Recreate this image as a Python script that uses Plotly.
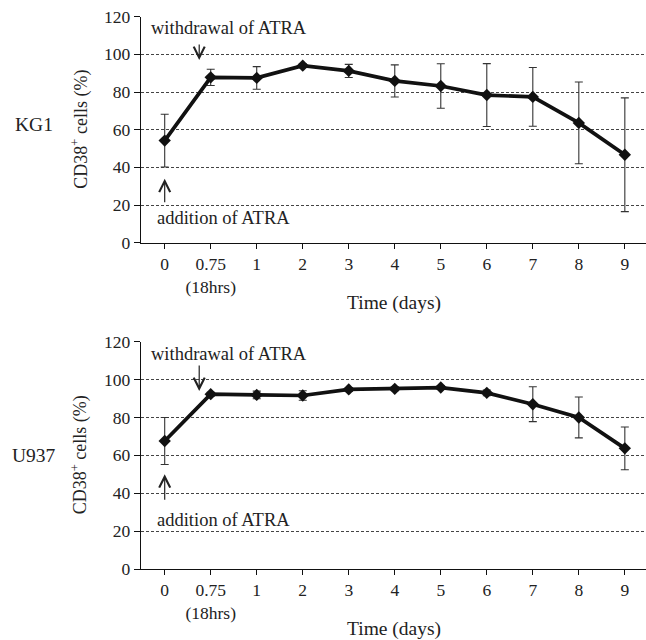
import plotly.graph_objects as go

categories = ["0", "0.75", "1", "2", "3", "4", "5", "6", "7", "8", "9"]
tick_labels = ["0", "0.75<br>(18hrs)", "1", "2", "3", "4", "5", "6", "7", "8", "9"]
y_ticks = [0, 20, 40, 60, 80, 100, 120]

kg1_mean = [54.2, 87.8, 87.5, 94.0, 91.2, 85.9, 83.2, 78.4, 77.4, 63.6, 46.7]
kg1_err = [14.0, 4.3, 6.0, 1.0, 3.5, 8.5, 11.8, 16.7, 15.6, 21.7, 30.2]

u937_mean = [67.6, 92.3, 91.9, 91.6, 94.8, 95.1, 95.8, 93.0, 87.0, 80.0, 63.7]
u937_err = [12.4, 1.0, 2.0, 2.5, 1.0, 1.0, 1.0, 1.5, 9.2, 10.8, 11.3]

panel_names = ["KG1", "U937"]

FONT = "Liberation Serif"
W, H = 646, 640

fig = go.Figure()

for i, (mean, err) in enumerate([(kg1_mean, kg1_err), (u937_mean, u937_err)]):
    xa = "x" if i == 0 else "x2"
    ya = "y" if i == 0 else "y2"
    fig.add_trace(go.Scatter(
        x=categories, y=mean, xaxis=xa, yaxis=ya,
        mode="lines+markers",
        line=dict(color="#111111", width=3.7),
        marker=dict(symbol="diamond", size=9.5, color="#111111"),
        error_y=dict(type="data", array=err, visible=True,
                     color="#333333", thickness=1.1, width=4),
        showlegend=False,
    ))

x_range = [-0.515, 10.46]
x_dom = [141 / W, 1.0]
y_doms = [[1 - 242.7 / H, 1 - 16.7 / H], [1 - 569 / H, 1 - 341.7 / H]]

axis_common_x = dict(
    type="category", range=x_range, domain=x_dom, automargin=False,
    tickmode="array", tickvals=categories, ticktext=tick_labels,
    showline=True, linecolor="#111111", linewidth=1.3,
    ticks="outside", ticklen=5, tickcolor="#111111", tickwidth=1,
    showgrid=False, zeroline=False,
    tickfont=dict(family=FONT, size=17.5, color="#222222"),
)
axis_common_y = dict(
    range=[0, 120], tickmode="array", tickvals=y_ticks, automargin=False,
    showline=True, linecolor="#111111", linewidth=1.3,
    ticks="outside", ticklen=6, tickcolor="#111111", tickwidth=1,
    showgrid=True, gridcolor="#444444", gridwidth=1, griddash="3px,2px",
    zeroline=False,
    tickfont=dict(family=FONT, size=17.5, color="#222222"),
)

fig.update_layout(
    width=W, height=H,
    margin=dict(l=0, r=0, t=0, b=0, autoexpand=False),
    paper_bgcolor="white", plot_bgcolor="white",
    xaxis=dict(axis_common_x, anchor="y"),
    yaxis=dict(axis_common_y, domain=y_doms[0], anchor="x"),
    xaxis2=dict(axis_common_x, anchor="y2"),
    yaxis2=dict(axis_common_y, domain=y_doms[1], anchor="x2"),
)

annots = []
for i in range(2):
    dom = y_doms[i]
    mid = (dom[0] + dom[1]) / 2
    # panel label
    annots.append(dict(text=panel_names[i], x=34 / W, y=mid + (0.008 if i == 0 else 0.0),
                       xref="paper", yref="paper", showarrow=False,
                       xanchor="center", yanchor="middle",
                       font=dict(family=FONT, size=19.5, color="#222222")))
    # y title
    annots.append(dict(text="CD38<sup>+</sup> cells (%)", x=80 / W, y=mid,
                       xref="paper", yref="paper", showarrow=False, textangle=-90,
                       xanchor="center", yanchor="middle",
                       font=dict(family=FONT, size=18, color="#222222")))
    # x title
    annots.append(dict(text="Time (days)", x=(x_dom[0] + x_dom[1]) / 2,
                       y=dom[0] - 60 / H,
                       xref="paper", yref="paper", showarrow=False,
                       xanchor="center", yanchor="middle",
                       font=dict(family=FONT, size=19.5, color="#222222")))

# arrow + text annotations
xr = ["x", "x2"]
yr = ["y", "y2"]
withdraw = [dict(head=97, ay=-17, ty=114), dict(head=94, ay=-27, ty=113.5)]
addition = [dict(head=34, ay=25, ty=13.1), dict(head=50, ay=27, ty=26)]
for i in range(2):
    annots.append(dict(text="withdrawal of ATRA", x=-0.34, y=withdraw[i]["ty"],
                       xref=xr[i], yref=yr[i], showarrow=False,
                       xanchor="left", yanchor="middle",
                       font=dict(family=FONT, size=18.5, color="#222222")))
    annots.append(dict(text="", x=categories[1], y=withdraw[i]["head"],
                       xref=xr[i], yref=yr[i], showarrow=True,
                       ax=0, ay=withdraw[i]["ay"], arrowhead=5, arrowsize=1.8,
                       arrowwidth=1.2, arrowcolor="#222222"))
    annots.append(dict(text="addition of ATRA", x=-0.21, y=addition[i]["ty"],
                       xref=xr[i], yref=yr[i], showarrow=False,
                       xanchor="left", yanchor="middle",
                       font=dict(family=FONT, size=18.5, color="#222222")))
    annots.append(dict(text="", x=categories[0], y=addition[i]["head"],
                       xref=xr[i], yref=yr[i], showarrow=True,
                       ax=0, ay=addition[i]["ay"], arrowhead=5, arrowsize=1.8,
                       arrowwidth=1.2, arrowcolor="#222222"))

fig.update_layout(annotations=annots)

fig.write_html("out.html", config={"displayModeBar": False},
               post_script="document.body.style.margin='0';")
